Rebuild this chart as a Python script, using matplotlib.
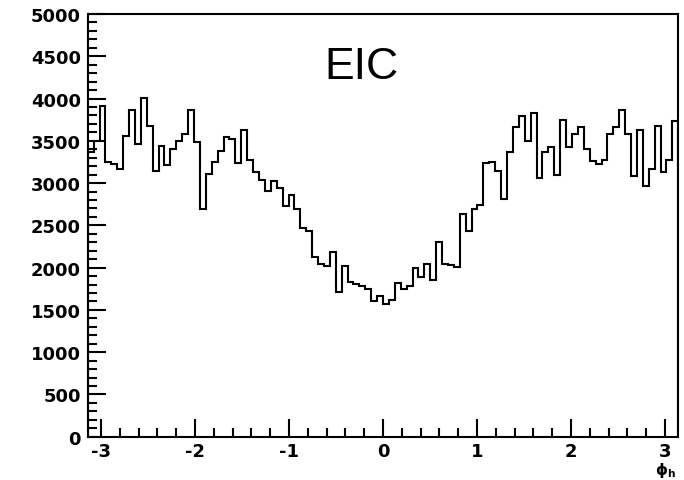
import numpy as np
import matplotlib
matplotlib.use("Agg")
import matplotlib.pyplot as plt
from matplotlib.ticker import MultipleLocator

# Azimuthal distribution of hadrons, 100 bins over [-pi, pi]
phi_edges = np.linspace(-np.pi, np.pi, 101)
counts = [
    3366, 3503, 3917, 3247, 3227, 3168, 3562, 3870, 3464, 4004,
    3680, 3148, 3444, 3215, 3405, 3496, 3582, 3866, 3491, 2690,
    3113, 3247, 3375, 3543, 3527, 3239, 3625, 3270, 3132, 3034,
    2911, 3030, 2947, 2730, 2860, 2695, 2466, 2438, 2130, 2040,
    2024, 2182, 1716, 2024, 1827, 1803, 1778, 1752, 1600, 1669,
    1570, 1620, 1819, 1745, 1778, 1996, 1890, 2044, 1858, 2300,
    2044, 2030, 2010, 2636, 2438, 2690, 2740, 3239, 3255, 3148,
    2813, 3373, 3661, 3799, 3496, 3831, 3062, 3373, 3425, 3097,
    3752, 3425, 3582, 3661, 3405, 3262, 3227, 3275, 3582, 3661,
    3870, 3582, 3079, 3630, 2961, 3168, 3680, 3132, 3275, 3732,
]
x_ticks = [-3, -2, -1, 0, 1, 2, 3]
y_ticks = [0, 500, 1000, 1500, 2000, 2500, 3000, 3500, 4000, 4500, 5000]
title_text = "EIC"
x_label = r"$\mathbf{\phi_h}$"

W, H = 684, 481
fig = plt.figure(figsize=(W / 100, H / 100), dpi=100)
ax = fig.add_axes([87.7 / W, 1 - 437.7 / H, (678.3 - 87.7) / W, (437.7 - 15) / H])

ax.stairs(counts, phi_edges, color="black", linewidth=1.5)

ax.set_xlim(-np.pi, np.pi)
ax.set_ylim(0, 5000)

ax.set_xticks(x_ticks)
ax.set_yticks(y_ticks)
ax.xaxis.set_minor_locator(MultipleLocator(0.2))
ax.yaxis.set_minor_locator(MultipleLocator(100))

for s in ax.spines.values():
    s.set_linewidth(1.5)

ax.tick_params(which="both", direction="in", top=False, right=False, width=1.5)
ax.tick_params(which="major", length=13)
ax.tick_params(which="minor", length=6.5)
ax.tick_params(axis="x", which="major", pad=4)
ax.tick_params(axis="y", which="major", pad=5)

tick_font = {"family": "DejaVu Sans", "weight": "bold", "size": 13}
ax.set_xticklabels([str(t) for t in x_ticks], fontdict=tick_font)
ax.set_yticklabels([str(t) for t in y_ticks], fontdict=tick_font)

ax.text(0.463, 0.875, title_text, transform=ax.transAxes, ha="center", va="center",
        fontsize=32, family="Liberation Sans")

fig.text(666 / W, 1 - 471 / H, x_label, ha="center", va="center", fontsize=11)

fig.savefig("out.png", dpi=100)
